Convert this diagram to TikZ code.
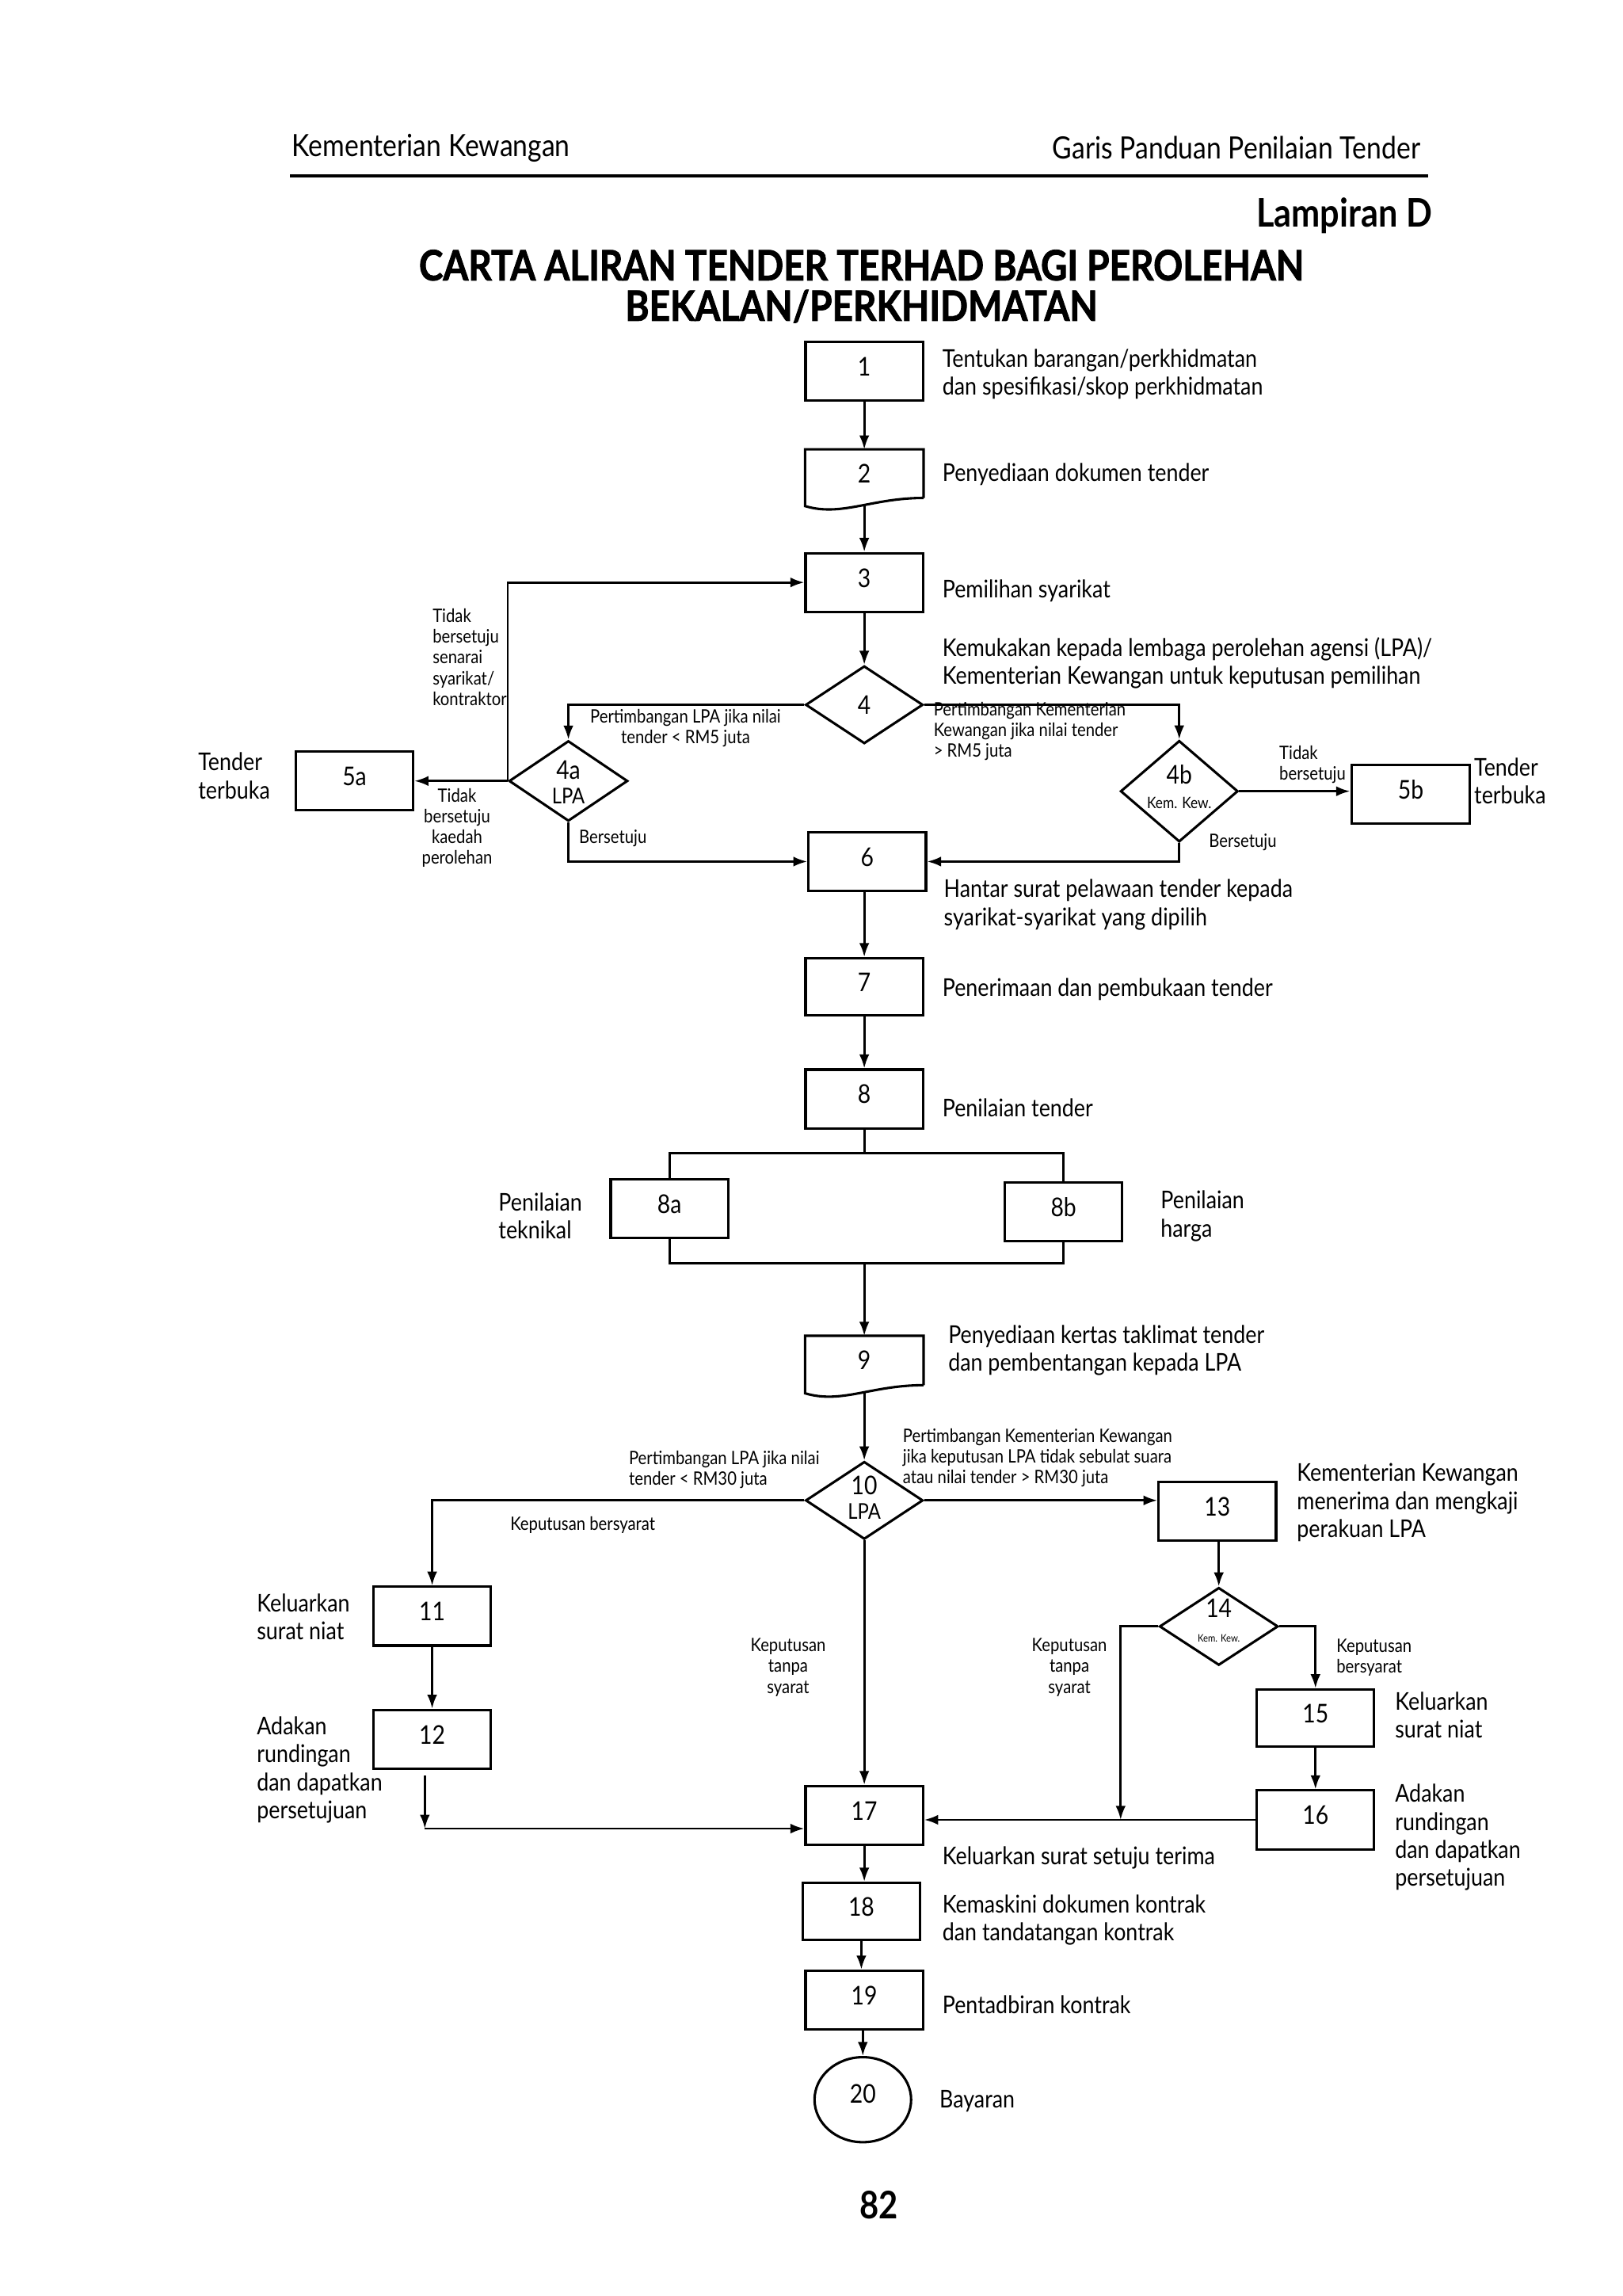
\documentclass[tikz,border=0pt]{standalone}
\usepackage{fontspec}
\setmainfont[FakeStretch=0.87]{Lato}
\newfontfamily\titlefont[FakeStretch=0.87, BoldFeatures={FakeBold=1.6}]{Lato}
\usetikzlibrary{shapes.geometric,arrows.meta}
\tikzset{
  every node/.style={inner sep=0pt},
  box/.style={draw, line width=0.9pt, rectangle, minimum width=15.2mm, minimum height=7.6mm,
    font=\fontsize{9.5}{11}\selectfont, text height=2.4mm, text depth=1.2mm},
  docbox/.style={rectangle, minimum width=15.2mm, minimum height=6.15mm, font=\fontsize{9.5}{11}\selectfont},
  dia/.style={draw, diamond, line width=0.9pt, minimum width=15.2mm, minimum height=10.05mm},
  diatext/.style={align=center, font=\fontsize{9.5}{10}\selectfont},
  txt/.style={anchor=west, align=left, font=\fontsize{9}{10.3}\selectfont},
  sml/.style={align=left, font=\fontsize{6.8}{7.6}\selectfont},
  smc/.style={align=center, font=\fontsize{6.8}{7.6}\selectfont},
  arr/.style={line width=0.8pt, -{Latex[length=1.8mm,width=1.3mm]}},
  ln/.style={line width=0.8pt},
  docline/.style={line width=0.9pt}
}
\begin{document}
\begin{tikzpicture}[x=0.18957mm, y=-0.18957mm]
\useasboundingbox (0,0) rectangle (1107.75,1567.0);

% header
\node[anchor=west, font=\fontsize{11.3}{13}\selectfont] (hl) at (199,101) {Kementerian Kewangan};
\node[anchor=east, font=\fontsize{11.3}{13}\selectfont] (hr) at (970,101) {Garis Panduan Penilaian Tender};
\coordinate (r1) at (198,120);
\coordinate (r2) at (975,120);
\draw[line width=1pt] (r1) -- (r2);
\node[anchor=east, font=\fontsize{14.5}{16}\bfseries] (lamp) at (978,147) {Lampiran D};
\node[font=\titlefont\fontsize{15.4}{16}\bfseries] (ti1) at (588,181) {CARTA ALIRAN TENDER TERHAD BAGI PEROLEHAN};
\node[font=\titlefont\fontsize{15.4}{16}\bfseries] (ti2) at (588,209) {BEKALAN/PERKHIDMATAN};

% boxes
\node[box] (b1) at (590,253.5) {1};
\node[docbox] (b2) at (590,323.25) {2};
\draw[docline] (b2.south east) -- (b2.north east) -- (b2.north west) -- ([yshift=-1.05mm]b2.south west)
  .. controls ([xshift=4.75mm,yshift=-2.46mm]b2.south west) and ([xshift=8.55mm]b2.south west) .. (b2.south east);
\node[box] (b3) at (590,397.5) {3};
\node[dia] (d4) at (590,481) {};
\node[diatext] (d4t) at (d4.center) {4};
\node[dia, minimum width=15.36mm, minimum height=10.4mm] (d4a) at (388,533) {};
\node[diatext] (d4at) at (388,534) {4a\\[-1pt]{\fontsize{8}{9}\selectfont LPA}};
\node[dia, minimum height=13.1mm] (d4b) at (805,540) {};
\node[diatext] (d4bt) at (805,537) {4b\\[-1pt]{\fontsize{5.8}{7}\selectfont Kem. Kew.}};
\node[box] (b5a) at (242,533) {5a};
\node[box, minimum width=15.36mm] (b5b) at (963,542) {5b};
\node[box] (b6) at (592,588) {6};
\node[box, minimum height=7.4mm] (b7) at (590,673.5) {7};
\node[box] (b8) at (590,750) {8};
\node[box] (b8a) at (457,825) {8a};
\node[box] (b8b) at (726,827) {8b};
\node[docbox, minimum height=6.25mm] (b9) at (590,928.5) {9};
\draw[docline] (b9.south east) -- (b9.north east) -- (b9.north west) -- ([yshift=-1.05mm]b9.south west)
  .. controls ([xshift=4.75mm,yshift=-2.46mm]b9.south west) and ([xshift=8.55mm]b9.south west) .. (b9.south east);
\node[dia] (d10) at (590,1024) {};
\node[diatext] (d10t) at (590,1022) {10\\[-1pt]{\fontsize{8}{9}\selectfont LPA}};
\node[box] (b11) at (295,1103) {11};
\node[box] (b12) at (295,1187) {12};
\node[box] (b13) at (831,1031.5) {13};
\node[dia, minimum width=15.36mm] (d14) at (832,1110) {};
\node[diatext] (d14t) at (832,1106) {14\\[-1pt]{\fontsize{3.8}{5}\selectfont Kem. Kew.}};
\node[box, minimum height=7.4mm] (b15) at (898,1172.5) {15};
\node[box] (b16) at (898,1242) {16};
\node[box] (b17) at (590,1239) {17};
\node[box, minimum height=7.4mm] (b18) at (588,1304.5) {18};
\node[box] (b19) at (590,1365) {19};
\node[draw, ellipse, line width=0.9pt, minimum width=12.5mm, minimum height=11mm,
  font=\fontsize{9.5}{11}\selectfont, text height=2.4mm, text depth=1.6mm] (e20) at (589,1433) {20};

% junction coordinates
\coordinate (j1) at (590,787);
\coordinate (j2) at (590,862);
\coordinate (c12) at (290,1212);
\coordinate (c12b) at (290,1248);
\coordinate (c14) at (765,1242);

% connectors
\draw[arr] (b1.south) -- (b2.north);
\draw[arr] ([yshift=-0.9mm]b2.south) -- (b3.north);
\draw[arr] (b3.south) -- (d4.north);
\draw[arr] (d4.west) -| (d4a.north);
\draw[arr] (d4.east) -| (d4b.north);
\draw[arr] (d4a.west) -- (b5a.east);
\draw[arr] (d4a.west) |- (b3.west);
\draw[arr] (d4a.south) |- (b6.west);
\draw[arr] (d4b.east) -- (d4b.east -| b5b.west);
\draw[arr] (d4b.south) |- (b6.east);
\draw[arr] (b6.south -| b7.north) -- (b7.north);
\draw[arr] (b7.south) -- (b8.north);
\draw[ln] (b8.south) -- (j1);
\draw[ln] (b8a.north) -- (b8a.north |- j1) -- (b8b.north |- j1) -- (b8b.north);
\draw[ln] (b8a.south) -- (b8a.south |- j2) -- (b8b.south |- j2) -- (b8b.south);
\draw[arr] (j2) -- (b9.north);
\draw[arr] ([yshift=-0.9mm]b9.south) -- (d10.north);
\draw[arr] (d10.west) -| (b11.north);
\draw[arr] (d10.east) -- (d10.east -| b13.west);
\draw[arr] (d10.south) -- (b17.north);
\draw[arr] (b11.south) -- (b12.north);
\draw[arr] (c12) -- (c12b);
\draw[arr] (c12b) -- (c12b -| b17.west);
\draw[arr] (b13.south -| d14.north) -- (d14.north);
\draw[arr] (d14.west) -| (c14);
\draw[arr] (d14.east) -| (b15.north);
\draw[arr] (b15.south) -- (b16.north);
\draw[arr] (b16.west) -- (b16.west -| b17.east);
\draw[arr] (b17.south) -- (b17.south |- b18.north);
\draw[arr] (b18.south) -- (b18.south |- b19.north);
\draw[arr] (b19.south -| e20.north) -- (e20.north);

% texts
\node[txt] (t1) at (643,255.5) {Tentukan barangan/perkhidmatan\\dan spesifikasi/skop perkhidmatan};
\node[txt] (t2) at (643,324) {Penyediaan dokumen tender};
\node[txt] (t3) at (643,403) {Pemilihan syarikat};
\node[txt] (t4) at (643,452.5) {Kemukakan kepada lembaga perolehan agensi (LPA)/\\Kementerian Kewangan untuk keputusan pemilihan};
\node[smc] (l4a) at (468,497) {Pertimbangan LPA jika nilai\\tender < RM5 juta};
\node[sml, anchor=west] (l4b) at (637,499) {Pertimbangan Kementerian\\Kewangan jika nilai tender\\> RM5 juta};
\node[sml, anchor=west] (l5u) at (295,448.5) {Tidak\\bersetuju\\senarai\\syarikat/\\kontraktor};
\node[smc] (l5d) at (312,565) {Tidak\\bersetuju\\kaedah\\perolehan};
\node[txt] (tt5a) at (135,529.5) {Tender\\terbuka};
\node[sml, anchor=west] (lb4a) at (395,572) {Bersetuju};
\node[sml, anchor=west] (ltb) at (873,522) {Tidak\\bersetuju};
\node[txt] (tt5b) at (1006,533) {Tender\\terbuka};
\node[sml, anchor=west] (lb4b) at (825,575) {Bersetuju};
\node[txt] (t6) at (644,617.5) {Hantar surat pelawaan tender kepada\\syarikat-syarikat yang dipilih};
\node[txt] (t7) at (643,675) {Penerimaan dan pembukaan tender};
\node[txt] (t8) at (643,756) {Penilaian tender};
\node[txt] (t8a) at (340,830) {Penilaian\\teknikal};
\node[txt] (t8b) at (792,830) {Penilaian\\harga};
\node[txt] (t9) at (647,921.5) {Penyediaan kertas taklimat tender\\dan pembentangan kepada LPA};
\node[sml, anchor=west] (l10a) at (429,1003) {Pertimbangan LPA jika nilai\\tender < RM30 juta};
\node[sml, anchor=west] (l10b) at (616,995) {Pertimbangan Kementerian Kewangan\\jika keputusan LPA tidak sebulat suara\\atau nilai tender > RM30 juta};
\node[sml, anchor=west] (l10c) at (348,1041) {Keputusan bersyarat};
\node[txt] (t13) at (885,1025.5) {Kementerian Kewangan\\menerima dan mengkaji\\perakuan LPA};
\node[smc] (l14a) at (730,1138) {Keputusan\\tanpa\\syarat};
\node[sml, anchor=west] (l14b) at (912,1131) {Keputusan\\bersyarat};
\node[smc] (l10d) at (538,1138) {Keputusan\\tanpa\\syarat};
\node[txt] (t15) at (952,1170.5) {Keluarkan\\surat niat};
\node[txt] (t16) at (952,1254) {Adakan\\rundingan\\dan dapatkan\\persetujuan};
\node[txt] (t11) at (175,1103.5) {Keluarkan\\surat niat};
\node[txt] (t12) at (175,1208) {Adakan\\rundingan\\dan dapatkan\\persetujuan};
\node[txt] (t17) at (643,1268) {Keluarkan surat setuju terima};
\node[txt] (t18) at (643,1310.5) {Kemaskini dokumen kontrak\\dan tandatangan kontrak};
\node[txt] (t19) at (643,1368) {Pentadbiran kontrak};
\node[txt] (t20) at (641,1434) {Bayaran};
\node[font=\fontsize{14}{16}\bfseries] (pg) at (600,1505) {82};
\end{tikzpicture}
\end{document}
